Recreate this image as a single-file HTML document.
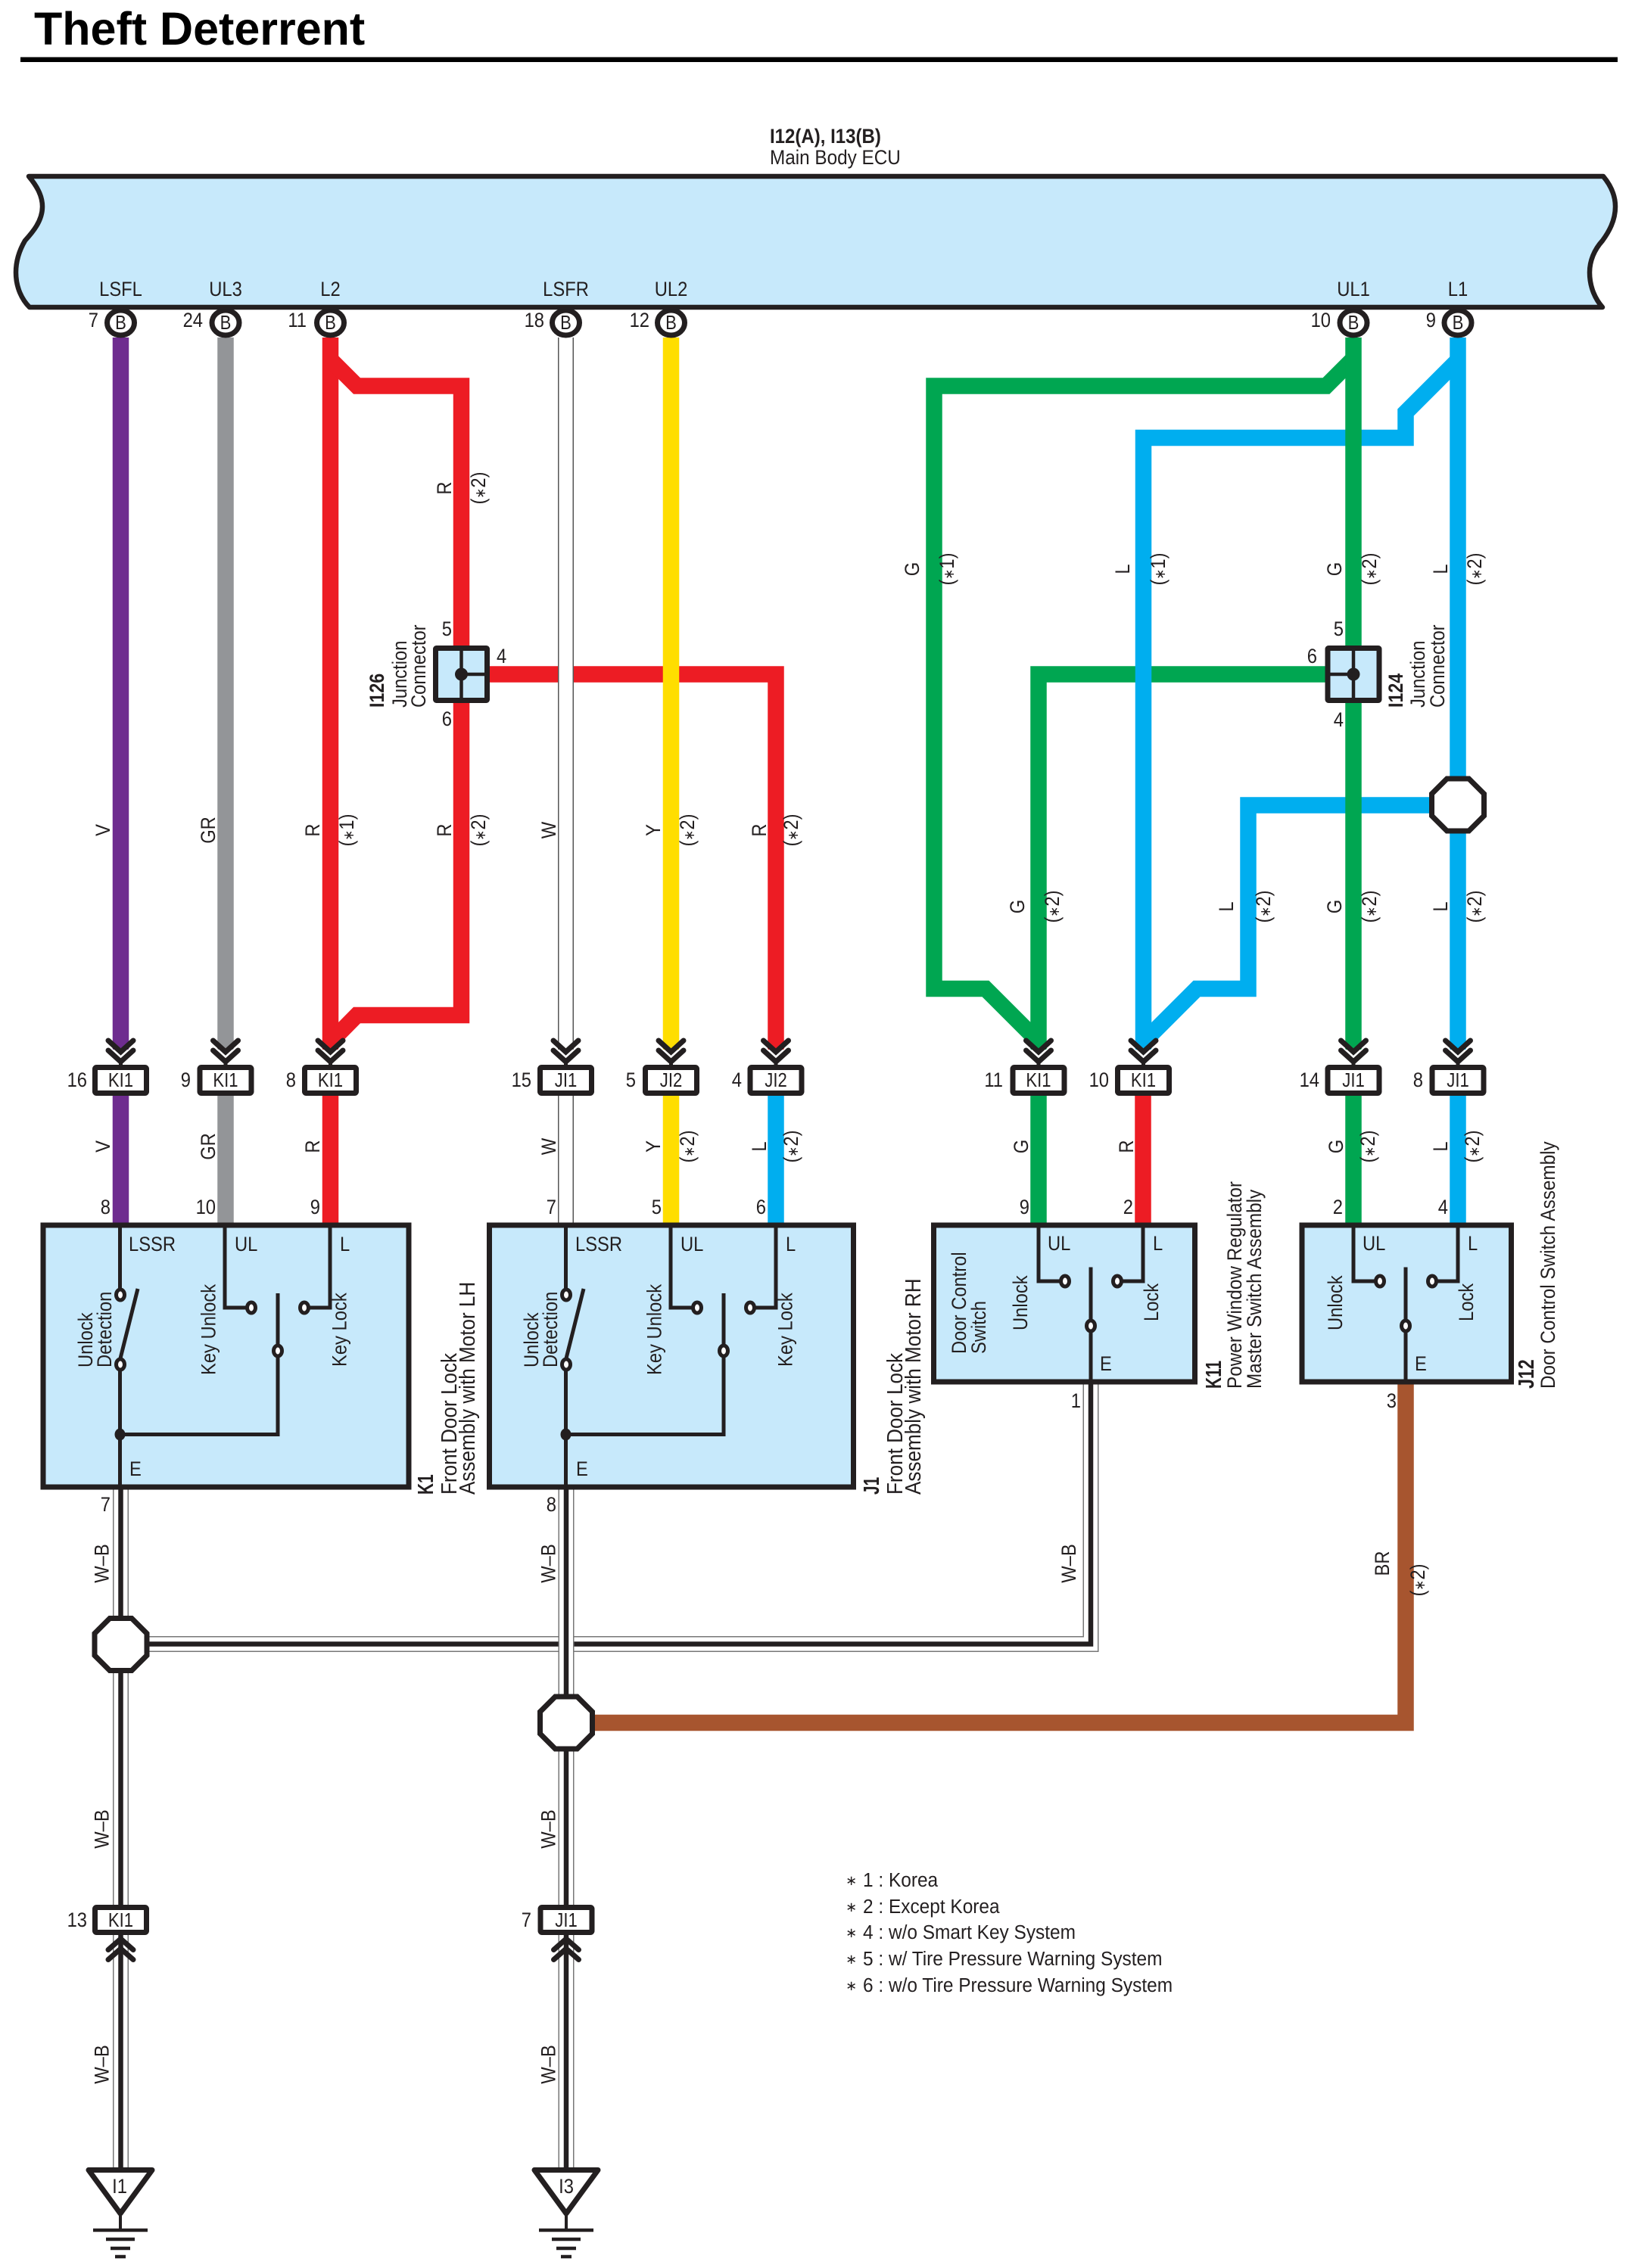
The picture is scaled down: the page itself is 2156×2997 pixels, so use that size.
<!DOCTYPE html>
<html><head><meta charset="utf-8"><title>Theft Deterrent</title>
<style>
html,body{margin:0;padding:0;background:#fff}
svg{display:block}
text{font-family:"Liberation Sans","DejaVu Sans",sans-serif;font-size:27px;fill:#231f20}
.m{text-anchor:middle}.e{text-anchor:end}.b{font-weight:bold}
.bf{font-size:29px}.s26{font-size:26px}
tspan{font-size:19px}
</style></head><body>
<svg xmlns="http://www.w3.org/2000/svg" width="2156" height="2997" viewBox="0 0 2156 2997">
<defs>
<g id="chd" fill="none" stroke-linecap="round" stroke-linejoin="miter">
<polygon points="-18,1381 0,1394 18,1381 18,1404 -18,1404" fill="#fff"/>
<path d="M-16.500 1375L0 1390L16.500 1375" stroke="#231f20" stroke-width="7"/>
<path d="M-16.500 1388L0 1403L16.500 1388" stroke="#231f20" stroke-width="7"/>
<path d="M0 1402V1409" stroke="#231f20" stroke-width="5"/>
</g>
<g id="chu" fill="none" stroke-linecap="round">
<path d="M-16.500 2576.500L0 2562L16.500 2576.500" stroke="#231f20" stroke-width="7"/>
<path d="M-16.500 2589.500L0 2575L16.500 2589.500" stroke="#231f20" stroke-width="7"/>
</g>
<rect id="cn" x="-34" y="1410.500" width="68" height="34" rx="2" fill="#fff" stroke="#231f20" stroke-width="7"/>
<rect id="cnb" x="-34" y="2520.500" width="68" height="33" rx="2" fill="#fff" stroke="#231f20" stroke-width="7"/>
<polygon id="oc" points="-14.500,-34.500 14.500,-34.500 34.500,-14.500 34.500,14.500 14.500,34.500 -14.500,34.500 -34.500,14.500 -34.500,-14.500" fill="#fff" stroke="#231f20" stroke-width="7"/>
<ellipse id="pin" cx="0" cy="426.500" rx="18" ry="16.500" fill="#fff" stroke="#231f20" stroke-width="7"/>
<g id="gnd" fill="none" stroke="#231f20">
<polygon points="-42,2867.500 42,2867.500 0,2925" fill="#fff" stroke-width="7" stroke-linejoin="round"/>
<path d="M0 2928V2947" stroke-width="4"/>
<path d="M-36 2947H36" stroke-width="4.500"/>
<path d="M-19 2959H19" stroke-width="4.500"/>
<path d="M-13 2971H13" stroke-width="4.500"/>
<path d="M-7 2982H7" stroke-width="4.500"/>
</g>
<g id="sw4" fill="none" stroke="#231f20" stroke-width="5">
<path d="M158.500 1619V1704M158.500 1810V1965"/>
<path d="M159 1795L182 1703"/>
<path d="M158.500 1895.500H367V1709"/>
<path d="M297 1619V1728H326"/>
<path d="M436 1619V1728H408"/>
<ellipse cx="159" cy="1711" rx="5.500" ry="7" fill="#fff"/>
<ellipse cx="159" cy="1803" rx="5.500" ry="7" fill="#fff"/>
<ellipse cx="367" cy="1785" rx="5.500" ry="7" fill="#fff"/>
<ellipse cx="332" cy="1728" rx="5.500" ry="7" fill="#fff"/>
<ellipse cx="402" cy="1728" rx="5.500" ry="7" fill="#fff"/>
<ellipse cx="158.500" cy="1895.500" rx="7" ry="8" fill="#231f20" stroke="none"/>
</g>
<g id="jc" fill="#c7e9fb" stroke="#231f20">
<rect x="-34" y="-34.500" width="68" height="69" rx="1" stroke-width="7"/>
<path d="M0 -34V34" stroke-width="4.500" fill="none"/>
<circle r="8.500" fill="#231f20" stroke="none"/>
</g>
<g id="sw3" fill="none" stroke="#231f20" stroke-width="5">
<path d="M-69 1619V1693H-40"/>
<path d="M69 1619V1693H40"/>
<path d="M0 1674.500V1745M0 1759V1826"/>
<ellipse cx="-34" cy="1693" rx="5.500" ry="7" fill="#fff"/>
<ellipse cx="35" cy="1693" rx="5.500" ry="7" fill="#fff"/>
<ellipse cx="0" cy="1752" rx="5.500" ry="7" fill="#fff"/>
</g>
</defs>

<text class="b" x="45" y="59" style="font-size:61px;fill:#000">Theft Deterrent</text>
<rect x="27" y="75.500" width="2110" height="6.500" fill="#000"/>

<!-- wires -->
<g fill="none" stroke-width="21.500" stroke-linejoin="miter">
<path d="M159.500 446V1387M159.500 1448V1616" stroke="#6e2c8f"/>
<path d="M298 446V1387M298 1448V1616" stroke="#939598"/>
<path d="M436.500 446V1387M436.500 1448V1616" stroke="#ed1c24"/>
<path d="M436.500 475L471.500 510H609.500V856" stroke="#ed1c24"/>
<path d="M609.500 926V1341.500H471.500L436.500 1377" stroke="#ed1c24"/>
<path d="M645 891H1025V1387" stroke="#ed1c24"/>
<path d="M1025 1448V1616" stroke="#00aeef"/>
<path d="M886.500 446V1387M886.500 1448V1616" stroke="#ffde00"/>
<path d="M1752 891H1372V1387M1372 1448V1616" stroke="#00a651"/>
<path d="M1510 1448V1616" stroke="#ed1c24"/>
<path d="M1926 476L1857 545V578.500H1510.500V1387" stroke="#00aeef"/>
<path d="M1890 1064H1649V1306.500H1581L1510.500 1377" stroke="#00aeef"/>
<path d="M1926 446V1387M1926 1448V1616" stroke="#00aeef"/>
<path d="M1788 474L1752 510H1234V1306.500H1302L1372 1376.500" stroke="#00a651"/>
<path d="M1788 446V1387M1788 1448V1616" stroke="#00a651"/>
<path d="M786 2276.500H1857V1829" stroke="#a7552f"/>
</g>
<g fill="none">
<path d="M747.500 446V1387M747.500 1448V1616" stroke="#555" stroke-width="21"/>
<path d="M747.500 440V1387M747.500 1448V1620" stroke="#fff" stroke-width="18"/>
<path d="M197 2172.500H1441V1829" stroke="#777" stroke-width="21"/>
<path d="M197 2172.500H1441V1829" stroke="#fff" stroke-width="18"/>
<path d="M197 2172.500H1441V1829" stroke="#231f20" stroke-width="6.500"/>
<path d="M159.500 1968V2517M159.500 2557V2866M748 1968V2517M748 2557V2866" stroke="#777" stroke-width="21"/>
<path d="M159.500 1966V2517M159.500 2555V2866M748 1966V2517M748 2555V2866" stroke="#fff" stroke-width="18"/>
<path d="M159.500 1966V2517M159.500 2555V2866M748 1966V2517M748 2555V2866" stroke="#231f20" stroke-width="6.500"/>
</g>

<!-- ECU -->
<use href="#pin" x="159.500"/><use href="#pin" x="298"/><use href="#pin" x="436.500"/><use href="#pin" x="747.500"/><use href="#pin" x="886.500"/><use href="#pin" x="1788"/><use href="#pin" x="1926"/>
<path d="M38 233H2118C2128 245 2134 258 2134 273C2134 292 2125 307 2117 318C2106 330 2100 345 2100 360C2100 380 2108 396 2117 406H39C29 396 21 380 21 360C21 345 26 330 33 318C43 307 56 292 56 273C56 258 48 245 38 233Z" fill="#c7e9fb" stroke="#231f20" stroke-width="6.500" stroke-linejoin="round"/>
<text class="b" transform="translate(1017 189) scale(.89 1)">I12(A), I13(B)</text>
<text transform="translate(1017 217) scale(.9 1)">Main Body ECU</text>
<g class="m">
<text class="m" transform="translate(159.500 391) scale(.88 1)">LSFL</text>
<text class="m" transform="translate(298 391) scale(.88 1)">UL3</text>
<text class="m" transform="translate(436.500 391) scale(.88 1)">L2</text>
<text class="m" transform="translate(747.500 391) scale(.88 1)">LSFR</text>
<text class="m" transform="translate(886.500 391) scale(.88 1)">UL2</text>
<text class="m" transform="translate(1788 391) scale(.88 1)">UL1</text>
<text class="m" transform="translate(1926 391) scale(.88 1)">L1</text>
<text class="m" style="font-size:26px" transform="translate(159.500 435) scale(.85 1)">B</text>
<text class="m" style="font-size:26px" transform="translate(298 435) scale(.85 1)">B</text>
<text class="m" style="font-size:26px" transform="translate(436.500 435) scale(.85 1)">B</text>
<text class="m" style="font-size:26px" transform="translate(747.500 435) scale(.85 1)">B</text>
<text class="m" style="font-size:26px" transform="translate(886.500 435) scale(.85 1)">B</text>
<text class="m" style="font-size:26px" transform="translate(1788 435) scale(.85 1)">B</text>
<text class="m" style="font-size:26px" transform="translate(1926 435) scale(.85 1)">B</text>
</g>
<text class="e" transform="translate(130 432) scale(.88 1)">7</text>
<text class="e" transform="translate(268 432) scale(.88 1)">24</text>
<text class="e" transform="translate(405 432) scale(.88 1)">11</text>
<text class="e" transform="translate(719 432) scale(.88 1)">18</text>
<text class="e" transform="translate(858 432) scale(.88 1)">12</text>
<text class="e" transform="translate(1758 432) scale(.88 1)">10</text>
<text class="e" transform="translate(1897 432) scale(.88 1)">9</text>

<!-- connectors top row -->
<use href="#chd" x="159.500"/><use href="#chd" x="298"/><use href="#chd" x="436.500"/><use href="#chd" x="747.500"/><use href="#chd" x="886.500"/><use href="#chd" x="1025"/><use href="#chd" x="1372"/><use href="#chd" x="1510.500"/><use href="#chd" x="1788"/><use href="#chd" x="1926"/>
<use href="#cn" x="159.500"/><use href="#cn" x="298"/><use href="#cn" x="436.500"/><use href="#cn" x="747.500"/><use href="#cn" x="886.500"/><use href="#cn" x="1025"/><use href="#cn" x="1372"/><use href="#cn" x="1510.500"/><use href="#cn" x="1788"/><use href="#cn" x="1926"/>
<text class="m s26" transform="translate(159.500 1436) scale(.85 1)">KI1</text>
<text class="m s26" transform="translate(298 1436) scale(.85 1)">KI1</text>
<text class="m s26" transform="translate(436.500 1436) scale(.85 1)">KI1</text>
<text class="m s26" transform="translate(747.500 1436) scale(.85 1)">JI1</text>
<text class="m s26" transform="translate(886.500 1436) scale(.85 1)">JI2</text>
<text class="m s26" transform="translate(1025 1436) scale(.85 1)">JI2</text>
<text class="m s26" transform="translate(1372 1436) scale(.85 1)">KI1</text>
<text class="m s26" transform="translate(1510.500 1436) scale(.85 1)">KI1</text>
<text class="m s26" transform="translate(1788 1436) scale(.85 1)">JI1</text>
<text class="m s26" transform="translate(1926 1436) scale(.85 1)">JI1</text>
<text class="e" transform="translate(115 1436) scale(.88 1)">16</text>
<text class="e" transform="translate(252 1436) scale(.88 1)">9</text>
<text class="e" transform="translate(391 1436) scale(.88 1)">8</text>
<text class="e" transform="translate(702 1436) scale(.88 1)">15</text>
<text class="e" transform="translate(840 1436) scale(.88 1)">5</text>
<text class="e" transform="translate(980 1436) scale(.88 1)">4</text>
<text class="e" transform="translate(1325 1436) scale(.88 1)">11</text>
<text class="e" transform="translate(1465 1436) scale(.88 1)">10</text>
<text class="e" transform="translate(1743 1436) scale(.88 1)">14</text>
<text class="e" transform="translate(1880 1436) scale(.88 1)">8</text>

<!-- junctions -->
<use href="#jc" x="609.500" y="891"/>
<path d="M609.500 891H644" stroke="#231f20" stroke-width="4.500"/>
<use href="#jc" x="1788" y="891"/>
<path d="M1788 891H1754" stroke="#231f20" stroke-width="4.500"/>
<text class="e" transform="translate(597 840) scale(.88 1)">5</text>
<text class="e" transform="translate(597 959) scale(.88 1)">6</text>
<text transform="translate(656 876) scale(.88 1)">4</text>
<text class="e" transform="translate(1775 840) scale(.88 1)">5</text>
<text class="e" transform="translate(1775 960) scale(.88 1)">4</text>
<text class="e" transform="translate(1740 876) scale(.88 1)">6</text>
<text class="b" transform="translate(507 935) rotate(-90) scale(.86 1)">I126</text>
<text transform="translate(537 935) rotate(-90) scale(.88 1)">Junction</text>
<text transform="translate(562 935) rotate(-90) scale(.88 1)">Connector</text>
<text class="b" transform="translate(1853 935) rotate(-90) scale(.86 1)">I124</text>
<text transform="translate(1882 935) rotate(-90) scale(.88 1)">Junction</text>
<text transform="translate(1908 935) rotate(-90) scale(.88 1)">Connector</text>

<!-- component boxes -->
<rect x="57" y="1619" width="483" height="346" fill="#c7e9fb" stroke="#231f20" stroke-width="7"/>
<rect x="646.500" y="1619" width="481" height="346" fill="#c7e9fb" stroke="#231f20" stroke-width="7"/>
<rect x="1233.500" y="1619" width="345" height="207" fill="#c7e9fb" stroke="#231f20" stroke-width="7"/>
<rect x="1720" y="1619" width="276.500" height="207" fill="#c7e9fb" stroke="#231f20" stroke-width="7"/>
<use href="#sw4"/><use href="#sw4" x="589"/>
<use href="#sw3" x="1441"/><use href="#sw3" x="1857"/>

<!-- text in K1 -->
<text transform="translate(170 1653) scale(.88 1)">LSSR</text>
<text transform="translate(310 1653) scale(.88 1)">UL</text>
<text transform="translate(449 1653) scale(.88 1)">L</text>
<text transform="translate(171 1950) scale(.88 1)">E</text>
<text transform="translate(122 1807) rotate(-90) scale(.88 1)">Unlock</text>
<text transform="translate(147 1807) rotate(-90) scale(.88 1)">Detection</text>
<text transform="translate(284.500 1817) rotate(-90) scale(.88 1)">Key Unlock</text>
<text transform="translate(457.500 1806) rotate(-90) scale(.88 1)">Key Lock</text>
<!-- text in J1 -->
<text transform="translate(760 1653) scale(.88 1)">LSSR</text>
<text transform="translate(899 1653) scale(.88 1)">UL</text>
<text transform="translate(1038 1653) scale(.88 1)">L</text>
<text transform="translate(761 1950) scale(.88 1)">E</text>
<text transform="translate(711 1807) rotate(-90) scale(.88 1)">Unlock</text>
<text transform="translate(736 1807) rotate(-90) scale(.88 1)">Detection</text>
<text transform="translate(873.500 1817) rotate(-90) scale(.88 1)">Key Unlock</text>
<text transform="translate(1046.500 1806) rotate(-90) scale(.88 1)">Key Lock</text>
<!-- text in K11 -->
<text transform="translate(1384 1652) scale(.88 1)">UL</text>
<text transform="translate(1523 1652) scale(.88 1)">L</text>
<text transform="translate(1453 1811) scale(.88 1)">E</text>
<text transform="translate(1276 1789) rotate(-90) scale(.88 1)">Door Control</text>
<text transform="translate(1302 1789) rotate(-90) scale(.88 1)">Switch</text>
<text transform="translate(1357 1758) rotate(-90) scale(.88 1)">Unlock</text>
<text transform="translate(1530 1746) rotate(-90) scale(.88 1)">Lock</text>
<!-- text in J12 -->
<text transform="translate(1800 1652) scale(.88 1)">UL</text>
<text transform="translate(1939 1652) scale(.88 1)">L</text>
<text transform="translate(1869 1811) scale(.88 1)">E</text>
<text transform="translate(1773 1758) rotate(-90) scale(.88 1)">Unlock</text>
<text transform="translate(1946 1746) rotate(-90) scale(.88 1)">Lock</text>

<!-- component titles -->
<text class="b bf" transform="translate(572 1975) rotate(-90) scale(.72 1)">K1</text>
<text class="bf" transform="translate(603 1975) rotate(-90) scale(.9 1)">Front Door Lock</text>
<text class="bf" transform="translate(627 1975) rotate(-90) scale(.9 1)">Assembly with Motor LH</text>
<text class="b bf" transform="translate(1161 1975) rotate(-90) scale(.72 1)">J1</text>
<text class="bf" transform="translate(1192 1975) rotate(-90) scale(.9 1)">Front Door Lock</text>
<text class="bf" transform="translate(1216 1975) rotate(-90) scale(.9 1)">Assembly with Motor RH</text>
<text class="b bf" transform="translate(1613 1835) rotate(-90) scale(.72 1)">K11</text>
<text transform="translate(1640 1835) rotate(-90) scale(.9 1)">Power Window Regulator</text>
<text transform="translate(1666 1835) rotate(-90) scale(.9 1)">Master Switch Assembly</text>
<text class="b bf" transform="translate(2026 1835) rotate(-90) scale(.8 1)">J12</text>
<text transform="translate(2054 1835) rotate(-90) scale(.9 1)">Door Control Switch Assembly</text>

<!-- pin numbers at boxes -->
<text class="e" transform="translate(146 1604) scale(.88 1)">8</text>
<text class="e" transform="translate(285 1604) scale(.88 1)">10</text>
<text class="e" transform="translate(423 1604) scale(.88 1)">9</text>
<text class="e" transform="translate(735 1604) scale(.88 1)">7</text>
<text class="e" transform="translate(874 1604) scale(.88 1)">5</text>
<text class="e" transform="translate(1012 1604) scale(.88 1)">6</text>
<text class="e" transform="translate(1360 1604) scale(.88 1)">9</text>
<text class="e" transform="translate(1497 1604) scale(.88 1)">2</text>
<text class="e" transform="translate(1774 1604) scale(.88 1)">2</text>
<text class="e" transform="translate(1913 1604) scale(.88 1)">4</text>
<text class="e" transform="translate(146 1997) scale(.88 1)">7</text>
<text class="e" transform="translate(735 1997) scale(.88 1)">8</text>
<text class="e" transform="translate(1428 1860) scale(.88 1)">1</text>
<text class="e" transform="translate(1845 1860) scale(.88 1)">3</text>

<!-- wire labels upper -->
<g>
<text class="m" transform="translate(145 1097) rotate(-90) scale(.88 1)">V</text>
<text class="m" transform="translate(284 1097) rotate(-90) scale(.88 1)">GR</text>
<text class="m" transform="translate(422 1097) rotate(-90) scale(.88 1)">R</text>
<text class="m" transform="translate(467 1097) rotate(-90) scale(.88 1)">(<tspan>∗</tspan>1)</text>
<text class="m" transform="translate(596 645) rotate(-90) scale(.88 1)">R</text>
<text class="m" transform="translate(641 645) rotate(-90) scale(.88 1)">(<tspan>∗</tspan>2)</text>
<text class="m" transform="translate(596 1097) rotate(-90) scale(.88 1)">R</text>
<text class="m" transform="translate(641 1097) rotate(-90) scale(.88 1)">(<tspan>∗</tspan>2)</text>
<text class="m" transform="translate(734 1097) rotate(-90) scale(.88 1)">W</text>
<text class="m" transform="translate(872 1097) rotate(-90) scale(.88 1)">Y</text>
<text class="m" transform="translate(917 1097) rotate(-90) scale(.88 1)">(<tspan>∗</tspan>2)</text>
<text class="m" transform="translate(1012 1097) rotate(-90) scale(.88 1)">R</text>
<text class="m" transform="translate(1054 1097) rotate(-90) scale(.88 1)">(<tspan>∗</tspan>2)</text>
<text class="m" transform="translate(1214 752) rotate(-90) scale(.88 1)">G</text>
<text class="m" transform="translate(1260 752) rotate(-90) scale(.88 1)">(<tspan>∗</tspan>1)</text>
<text class="m" transform="translate(1492 752) rotate(-90) scale(.88 1)">L</text>
<text class="m" transform="translate(1539 752) rotate(-90) scale(.88 1)">(<tspan>∗</tspan>1)</text>
<text class="m" transform="translate(1772 752) rotate(-90) scale(.88 1)">G</text>
<text class="m" transform="translate(1818 752) rotate(-90) scale(.88 1)">(<tspan>∗</tspan>2)</text>
<text class="m" transform="translate(1912 752) rotate(-90) scale(.88 1)">L</text>
<text class="m" transform="translate(1957 752) rotate(-90) scale(.88 1)">(<tspan>∗</tspan>2)</text>
<text class="m" transform="translate(1353 1198) rotate(-90) scale(.88 1)">G</text>
<text class="m" transform="translate(1399 1198) rotate(-90) scale(.88 1)">(<tspan>∗</tspan>2)</text>
<text class="m" transform="translate(1629 1198) rotate(-90) scale(.88 1)">L</text>
<text class="m" transform="translate(1678 1198) rotate(-90) scale(.88 1)">(<tspan>∗</tspan>2)</text>
<text class="m" transform="translate(1772 1198) rotate(-90) scale(.88 1)">G</text>
<text class="m" transform="translate(1818 1198) rotate(-90) scale(.88 1)">(<tspan>∗</tspan>2)</text>
<text class="m" transform="translate(1912 1198) rotate(-90) scale(.88 1)">L</text>
<text class="m" transform="translate(1957 1198) rotate(-90) scale(.88 1)">(<tspan>∗</tspan>2)</text>
</g>
<!-- wire labels between connector and box -->
<text class="m" transform="translate(145 1515) rotate(-90) scale(.88 1)">V</text>
<text class="m" transform="translate(284 1515) rotate(-90) scale(.88 1)">GR</text>
<text class="m" transform="translate(422 1515) rotate(-90) scale(.88 1)">R</text>
<text class="m" transform="translate(734 1515) rotate(-90) scale(.88 1)">W</text>
<text class="m" transform="translate(872 1515) rotate(-90) scale(.88 1)">Y</text>
<text class="m" transform="translate(917 1515) rotate(-90) scale(.88 1)">(<tspan>∗</tspan>2)</text>
<text class="m" transform="translate(1012 1515) rotate(-90) scale(.88 1)">L</text>
<text class="m" transform="translate(1054 1515) rotate(-90) scale(.88 1)">(<tspan>∗</tspan>2)</text>
<text class="m" transform="translate(1358 1515) rotate(-90) scale(.88 1)">G</text>
<text class="m" transform="translate(1497 1515) rotate(-90) scale(.88 1)">R</text>
<text class="m" transform="translate(1774 1515) rotate(-90) scale(.88 1)">G</text>
<text class="m" transform="translate(1816 1515) rotate(-90) scale(.88 1)">(<tspan>∗</tspan>2)</text>
<text class="m" transform="translate(1912 1515) rotate(-90) scale(.88 1)">L</text>
<text class="m" transform="translate(1954 1515) rotate(-90) scale(.88 1)">(<tspan>∗</tspan>2)</text>
<!-- octagons -->
<use href="#oc" x="1926" y="1063.500"/>
<use href="#oc" x="159.500" y="2173"/>
<use href="#oc" x="748" y="2276.500"/>
<!-- lower labels -->
<text class="m" transform="translate(143.500 2066) rotate(-90) scale(.88 1)">W–B</text>
<text class="m" transform="translate(733.500 2066) rotate(-90) scale(.88 1)">W–B</text>
<text class="m" transform="translate(1421 2066) rotate(-90) scale(.88 1)">W–B</text>
<text class="m" transform="translate(1835 2066) rotate(-90) scale(.88 1)">BR</text>
<text class="m" transform="translate(1882 2088) rotate(-90) scale(.88 1)">(<tspan>∗</tspan>2)</text>
<text class="m" transform="translate(143.500 2417) rotate(-90) scale(.88 1)">W–B</text>
<text class="m" transform="translate(733.500 2417) rotate(-90) scale(.88 1)">W–B</text>
<text class="m" transform="translate(143.500 2728) rotate(-90) scale(.88 1)">W–B</text>
<text class="m" transform="translate(733.500 2728) rotate(-90) scale(.88 1)">W–B</text>
<!-- bottom connectors -->
<use href="#chu" x="159.500"/><use href="#chu" x="748"/>
<use href="#cnb" x="159.500"/><use href="#cnb" x="748"/>
<text class="m s26" transform="translate(159.500 2546) scale(.85 1)">KI1</text>
<text class="m s26" transform="translate(748 2546) scale(.85 1)">JI1</text>
<text class="e" transform="translate(115 2546) scale(.88 1)">13</text>
<text class="e" transform="translate(702 2546) scale(.88 1)">7</text>
<use href="#gnd" x="159"/><use href="#gnd" x="748"/>
<text class="m" transform="translate(158 2898) scale(.88 1)">I1</text>
<text class="m" transform="translate(748 2898) scale(.88 1)">I3</text>
<!-- notes -->
<text style="font-size:18px" x="1117" y="2491">∗</text>
<text style="font-size:18px" x="1117" y="2526">∗</text>
<text style="font-size:18px" x="1117" y="2560">∗</text>
<text style="font-size:18px" x="1117" y="2595">∗</text>
<text style="font-size:18px" x="1117" y="2630">∗</text>
<text style="font-size:26px" transform="translate(1140 2493) scale(.94 1)">1 : Korea</text>
<text style="font-size:26px" transform="translate(1140 2528) scale(.94 1)">2 : Except Korea</text>
<text style="font-size:26px" transform="translate(1140 2562) scale(.94 1)">4 : w/o Smart Key System</text>
<text style="font-size:26px" transform="translate(1140 2597) scale(.94 1)">5 : w/ Tire Pressure Warning System</text>
<text style="font-size:26px" transform="translate(1140 2632) scale(.94 1)">6 : w/o Tire Pressure Warning System</text>
</svg>
</body></html>
